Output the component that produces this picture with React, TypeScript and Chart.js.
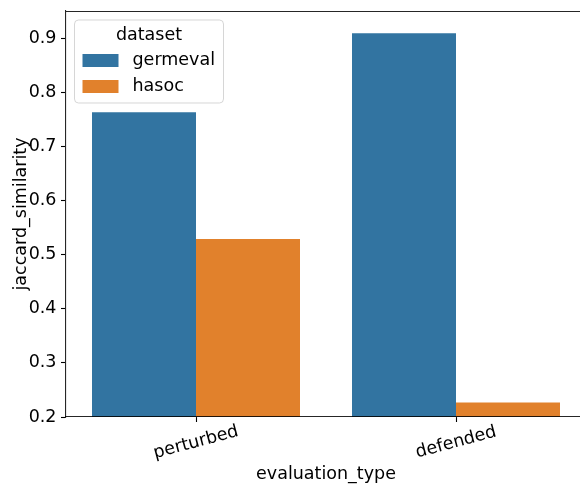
import React, { useEffect, useRef } from "react";
import { Chart, registerables } from "chart.js";

Chart.register(...registerables);

const categories = ["perturbed", "defended"];
const seriesNames = ["germeval", "hasoc"];
const germevalValues = [0.763, 0.909];
const hasocValues = [0.529, 0.227];
const seriesColors = ["#3274a1", "#e1812c"];
const yTickValues = [0.2, 0.3, 0.4, 0.5, 0.6, 0.7, 0.8, 0.9];
const yMin = 0.2;
const yMax = 0.95;
const legendTitle = "dataset";
const xTitle = "evaluation_type";
const yTitle = "jaccard_similarity";

const FONT = '"DejaVu Sans", sans-serif';
const FS = 17.5;

const xLabelPlugin = {
  id: "xLabels",
  afterDraw(chart: any) {
    const xs = chart.scales.x;
    const ctx = chart.ctx;
    ctx.save();
    ctx.font = `${FS}px ${FONT}`;
    ctx.fillStyle = "#000";
    ctx.textAlign = "center";
    ctx.textBaseline = "middle";
    xs.ticks.forEach((_t: any, i: number) => {
      const px = xs.getPixelForTick(i);
      ctx.save();
      ctx.translate(px, xs.top + 25.5);
      ctx.rotate((-15 * Math.PI) / 180);
      ctx.fillText(xs.getLabelForValue(i), 0, 0);
      ctx.restore();
    });
    ctx.restore();
  },
};

const framePlugin = {
  id: "frame",
  afterDatasetsDraw(chart: any) {
    const { ctx, chartArea } = chart;
    ctx.save();
    ctx.strokeStyle = "rgba(0,0,0,0.85)";
    ctx.lineWidth = 1.1;
    ctx.beginPath();
    ctx.moveTo(chartArea.left, chartArea.top + 0.5);
    ctx.lineTo(chartArea.right, chartArea.top + 0.5);
    ctx.moveTo(chartArea.right - 0.5, chartArea.top);
    ctx.lineTo(chartArea.right - 0.5, chartArea.bottom);
    ctx.stroke();
    ctx.restore();
  },
};

const legendPlugin = {
  id: "boxLegend",
  afterDraw(chart: any) {
    const { ctx, chartArea } = chart;
    const x0 = chartArea.left + 8.5;
    const y0 = chartArea.top + 9;
    const w = 149;
    const h = 83;
    const r = 4;
    ctx.save();
    ctx.beginPath();
    ctx.moveTo(x0 + r, y0);
    ctx.lineTo(x0 + w - r, y0);
    ctx.arcTo(x0 + w, y0, x0 + w, y0 + r, r);
    ctx.lineTo(x0 + w, y0 + h - r);
    ctx.arcTo(x0 + w, y0 + h, x0 + w - r, y0 + h, r);
    ctx.lineTo(x0 + r, y0 + h);
    ctx.arcTo(x0, y0 + h, x0, y0 + h - r, r);
    ctx.lineTo(x0, y0 + r);
    ctx.arcTo(x0, y0, x0 + r, y0, r);
    ctx.closePath();
    ctx.fillStyle = "rgba(255,255,255,0.8)";
    ctx.fill();
    ctx.strokeStyle = "rgba(204,204,204,0.8)";
    ctx.lineWidth = 1;
    ctx.stroke();

    ctx.font = `${FS}px ${FONT}`;
    ctx.fillStyle = "#000";
    ctx.textBaseline = "middle";
    ctx.textAlign = "center";
    ctx.fillText(legendTitle, x0 + w / 2, y0 + 15);
    ctx.textAlign = "left";
    chart.data.datasets.forEach((ds: any, i: number) => {
      const py = y0 + 34 + i * 26;
      ctx.fillStyle = ds.backgroundColor;
      ctx.fillRect(x0 + 8, py, 36, 13);
      ctx.fillStyle = "#000";
      ctx.fillText(ds.label, x0 + 58, py + 6.5);
    });
    ctx.restore();
  },
};

export default function App() {
  const ref = useRef<HTMLCanvasElement | null>(null);

  useEffect(() => {
    if (!ref.current) return;
    const chart = new Chart(ref.current, {
      type: "bar",
      data: {
        labels: categories,
        datasets: [
          {
            label: seriesNames[0],
            data: germevalValues,
            backgroundColor: seriesColors[0],
            borderWidth: 0,
            barPercentage: 1,
            categoryPercentage: 0.8,
          },
          {
            label: seriesNames[1],
            data: hasocValues,
            backgroundColor: seriesColors[1],
            borderWidth: 0,
            barPercentage: 1,
            categoryPercentage: 0.8,
          },
        ],
      },
      options: {
        animation: false,
        responsive: false,
        devicePixelRatio: 1,
        layout: { padding: { top: 11, right: 14, left: 0, bottom: 0 } },
        plugins: {
          legend: { display: false },
          tooltip: { enabled: false },
        },
        scales: {
          x: {
            type: "category",
            offset: true,
            grid: {
              offset: false,
              drawOnChartArea: false,
              drawTicks: true,
              tickLength: 5,
              tickColor: "#000",
              tickWidth: 1.1,
            },
            border: { display: true, color: "rgba(0,0,0,0.85)", width: 1.1, z: 1 },
            ticks: { display: false },
            title: {
              display: true,
              text: xTitle,
              color: "#000",
              font: { family: FONT, size: FS },
              padding: { top: 0, bottom: 0.5 },
            },
            afterFit(scale: any) {
              scale.height = 68;
              scale.paddingLeft = 0;
              scale.paddingRight = 0;
            },
          },
          y: {
            type: "linear",
            min: yMin,
            max: yMax,
            afterBuildTicks(scale: any) {
              scale.ticks = yTickValues.map((v) => ({ value: v }));
            },
            grid: {
              drawOnChartArea: false,
              drawTicks: true,
              tickLength: 5,
              tickColor: "#000",
              tickWidth: 1.1,
            },
            border: { display: true, color: "rgba(0,0,0,0.85)", width: 1.1, z: 1 },
            ticks: {
              color: "#000",
              padding: 4.5,
              font: { family: FONT, size: FS },
              callback: (v: any) => Number(v).toFixed(1),
            },
            title: {
              display: true,
              text: yTitle,
              color: "#000",
              font: { family: FONT, size: FS },
              padding: { top: 10.5, bottom: 0 },
            },
            afterFit(scale: any) {
              scale.width = 66;
              scale.paddingTop = 0;
              scale.paddingBottom = 0;
            },
          },
        },
      },
      plugins: [framePlugin, xLabelPlugin, legendPlugin],
    } as any);
    return () => chart.destroy();
  }, []);

  return (
    <div
      style={{
        position: "fixed",
        left: 0,
        top: 0,
        width: 580,
        height: 485,
        overflow: "hidden",
        background: "#fff",
      }}
    >
      <canvas ref={ref} width={600} height={485} style={{ display: "block", width: 600, height: 485 }} />
    </div>
  );
}
